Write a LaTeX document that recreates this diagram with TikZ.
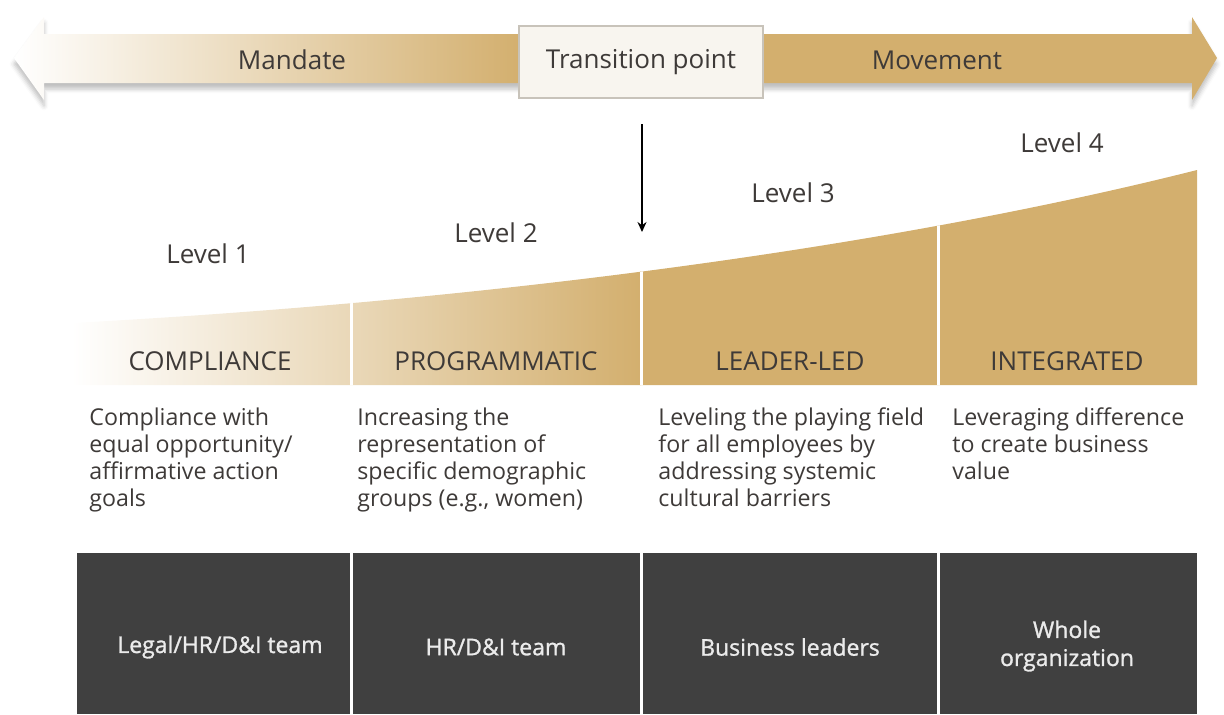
\documentclass[tikz,border=0pt]{standalone}
\usepackage{fontspec}
\setmainfont{Open Sans}
\newfontfamily\ownerfont[FakeBold=1.2]{Open Sans}
\usetikzlibrary{arrows.meta,shadows.blur}
\definecolor{gold}{RGB}{211,175,110}
\definecolor{boxgray}{RGB}{64,64,64}
\definecolor{txtgray}{RGB}{62,58,56}
\definecolor{transfill}{RGB}{248,245,239}
\definecolor{transline}{RGB}{200,195,186}

\begin{document}
\begin{tikzpicture}[x=0.5pt,y=-0.5pt,
    toplabel/.style={font=\fontsize{13}{15}\selectfont, text=txtgray},
    levellabel/.style={font=\fontsize{13}{15}\selectfont, text=txtgray},
    colhead/.style={font=\fontsize{13}{15}\selectfont, text=txtgray},
    desc/.style={font=\fontsize{11.6}{13.6}\selectfont, text=txtgray, align=left, anchor=north west, inner sep=0pt},
    ownertext/.style={font=\ownerfont\fontsize{11.5}{14}\selectfont, text=white!92!black, align=center}]
  \useasboundingbox (0,0) rectangle (1224,714);
  % mandate -> movement arrow
  \shade[left color=white, right color=gold, blur shadow={shadow xshift=0pt, shadow yshift=-3pt, shadow opacity=25}]
    (14,58) -- (44,17) -- (44,34) -- (522,34) -- (522,83) -- (44,83) -- (44,100) -- cycle;
  \fill[gold, blur shadow={shadow xshift=0pt, shadow yshift=-3pt, shadow opacity=25}]
    (760,34) -- (1192,34) -- (1192,17) -- (1217,58) -- (1192,100) -- (1192,83) -- (760,83) -- cycle;
  \node[draw=transline, fill=transfill, line width=0.6pt, minimum width=122pt, minimum height=36pt, toplabel] (trans) at (641,62) {Transition point};
  \node[toplabel] (mandate) at (292,60) {Mandate};
  \node[toplabel] (movement) at (937,60) {Movement};
  % transition marker
  \coordinate (marktop) at (642,124);
  \coordinate (marktip) at (642,232);
  \draw[line width=0.8pt, -{Stealth[length=5pt,width=4.5pt]}] (marktop) -- (marktip);
  % rising band
  \begin{scope}
    \clip (72,385) -- (72,323) .. controls (500,300) and (900,245) .. (1197,170) -- (1197,385) -- cycle;
    \shade[left color=white, middle color=gold!65, right color=gold] (72,150) rectangle (641,390);
    \fill[gold] (640,150) rectangle (1200,390);
    \foreach \xd in {351,641,938}
      \draw[white, line width=1.5pt] (\xd,150) -- (\xd,390);
  \end{scope}
  \node[levellabel] (lvl1) at (208,254) {Level 1};
  \node[levellabel] (lvl2) at (496,233) {Level 2};
  \node[levellabel] (lvl3) at (793,193) {Level 3};
  \node[levellabel] (lvl4) at (1062,143) {Level 4};
  \node[colhead] (compliance) at (210,361) {COMPLIANCE};
  \node[colhead] (programmatic) at (496,361) {PROGRAMMATIC};
  \node[colhead] (leaderled) at (790,361) {LEADER-LED};
  \node[colhead] (integrated) at (1067,361) {INTEGRATED};
  % descriptions
  \node[desc] (desc1) at (89,407) {Compliance with\\equal opportunity/\\affirmative action\\goals};
  \node[desc] (desc2) at (357,407) {Increasing the\\representation of\\specific demographic\\groups (e.g., women)};
  \node[desc] (desc3) at (658,407) {Leveling the playing field\\for all employees by\\addressing systemic\\cultural barriers};
  \node[desc] (desc4) at (952,407) {Leveraging difference\\to create business\\value};
  % owners
  \fill[boxgray] (77,553) rectangle (1197,714);
  \foreach \xd in {351,641,938}
    \draw[white, line width=1.5pt] (\xd,553) -- (\xd,714);
  \node[ownertext] (owner1) at (220,647) {Legal/HR/D\&I team};
  \node[ownertext] (owner2) at (496,647) {HR/D\&I team};
  \node[ownertext] (owner3) at (790,647) {Business leaders};
  \node[ownertext] (owner4) at (1067,646) {Whole\\organization};
\end{tikzpicture}
\end{document}
